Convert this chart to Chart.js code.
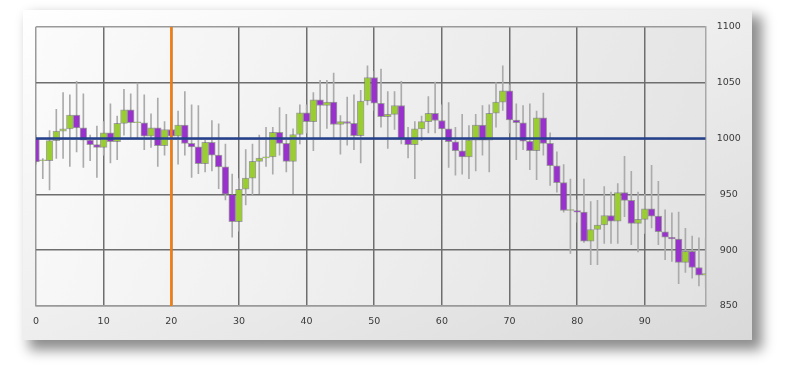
<!DOCTYPE html>
<html>
<head>
<meta charset="utf-8">
<title>Candles</title>
<script src="https://cdn.jsdelivr.net/npm/chart.js@4.4.1/dist/chart.umd.min.js"></script>
<style>
  html, body { margin: 0; padding: 0; background: #fff; }
  body { width: 799px; height: 383px; position: relative; overflow: hidden; }
  #panel {
    position: absolute; left: 23px; top: 10px; width: 729px; height: 330px;
    background: linear-gradient(to bottom right, #ffffff 0%, #eeeeee 50%, #d9d9d9 100%);
    box-shadow: 8px 8px 12px 2px rgba(0, 0, 0, 0.45);
  }
  canvas { display: block; }
</style>
</head>
<body>
<div id="panel"><canvas id="chart" width="729" height="330"></canvas></div>
<script>
// Candle values, one entry per x position (0..99)
const opens = [
  1000, 980, 980, 998, 1006.5, 1008.5, 1021, 1009.5, 998.5, 994.5,
  992, 1005, 997, 1013.5, 1025.5, 1014, 1014, 1002, 1009.5, 993.5,
  1008, 1002, 1012, 995.5, 992.5, 977.5, 996.5, 985, 974.5, 950,
  925.5, 954.5, 964.5, 979.5, 982.5, 983.5, 1005.5, 995.5, 979.5, 1003.5,
  1023, 1015, 1034.5, 1029.5, 1032.5, 1012.5, 1015, 1013.5, 1002.5, 1033.5,
  1054.5, 1031.5, 1019.5, 1021.5, 1029.5, 1000, 994.5, 1008.5, 1015, 1022.5,
  1016, 1008.5, 997, 989, 983.5, 998.5, 1012, 998.5, 1022.5, 1032.5,
  1042.5, 1016.5, 1014, 997.5, 989, 1018.5, 995.5, 975.5, 960.5, 935.5,
  935.5, 934, 908, 918.5, 922.5, 931, 926, 951.5, 944.5, 924,
  927.5, 937, 930.5, 916.5, 911.5, 910, 889, 899, 884.5, 877.5
];
const closes = [
  979, 980, 998, 1006.5, 1008.5, 1021, 1009.5, 998.5, 994.5, 992,
  1005, 997, 1013.5, 1025.5, 1014, 1014, 1002, 1009.5, 993.5, 1008,
  1002, 1012, 995.5, 992.5, 977.5, 996.5, 985, 974.5, 950, 925.5,
  954.5, 964.5, 979.5, 982.5, 983.5, 1005.5, 995.5, 979.5, 1003.5, 1023,
  1015, 1034.5, 1029.5, 1032.5, 1012.5, 1015, 1013.5, 1002.5, 1033.5, 1054.5,
  1031.5, 1019.5, 1021.5, 1029.5, 1000, 994.5, 1008.5, 1015, 1022.5, 1016,
  1008.5, 997, 989, 983.5, 998.5, 1012, 998.5, 1022.5, 1032.5, 1042.5,
  1016.5, 1014, 997.5, 989, 1018.5, 995.5, 975.5, 960.5, 935.5, 935.5,
  934, 908, 918.5, 922.5, 931, 926, 951.5, 944.5, 924, 927.5,
  937, 930.5, 916.5, 911.5, 910, 889, 899, 884.5, 877.5, 879
];
const highs = [
  1003, 982, 1007, 1026, 1041, 1039, 1051, 1040, 1003, 1011,
  1015, 1031, 1020, 1044, 1040, 1049.5, 1039, 1022, 1036, 1015,
  1020, 1024.5, 1042, 1030, 1029.5, 1000, 1016, 1013, 995, 968,
  964, 990, 995, 1003, 1010, 1010, 1027.5, 1021.5, 1008.5, 1030,
  1030, 1041, 1052, 1052, 1058.5, 1020.5, 1037, 1039, 1043, 1065,
  1060, 1062, 1042, 1042, 1051, 1010, 1015, 1020, 1037.5, 1050.5,
  1030, 1032, 1010, 1021.5, 1011.5, 1021.5, 1029.5, 1030, 1050, 1065,
  1048, 1031, 1029.5, 1031, 1024.5, 1040.5, 1005, 988, 976.5, 963.5,
  945, 963.5, 943.5, 944.5, 957, 952, 959.5, 984, 970.5, 952,
  950, 976, 961.5, 936, 933.5, 934, 919.5, 912.5, 911, 911
];
const lows = [
  977, 964, 954, 982, 982, 975, 988, 974, 980, 965,
  985, 978, 981, 1003, 1000, 1000, 990, 992, 975, 985,
  990, 977, 985, 965, 968.5, 970, 971, 955, 945, 911.5,
  917, 940.5, 949, 950.5, 975, 968, 985, 970, 950.5, 995,
  1005, 989, 1000, 1009, 1000, 986, 994, 990, 978, 1030,
  1025, 1010, 991, 1008, 995, 982.5, 964, 998, 1005, 1005,
  1000, 974, 967, 968, 964, 971, 985, 970, 1010, 1025,
  1005, 981, 990, 972, 963, 985, 958, 952, 934, 897,
  925, 907, 887, 887, 906, 906, 906, 930, 905, 898.5,
  915, 920, 905, 891.5, 890, 870, 880, 875, 868, 866
];

// Axes and the two marker lines
const xRange = [0, 99];
const xStep = 10;
const yRange = [850, 1100];
const yStep = 50;
const refLevel = 1000;   // horizontal blue line
const markerX = 20;      // vertical orange line

const UP = "#9acd32";
const DOWN = "#9932cc";

const bodies = opens.map((o, i) => ({ x: i, y: [o, closes[i]] }));
const wicks = lows.map((l, i) => ({ x: i, y: [l, highs[i]] }));

// light gradient behind the plot
const plotBackground = {
  id: "plotBackground",
  beforeDraw(chart) {
    const { ctx, chartArea: a } = chart;
    const g = ctx.createLinearGradient(a.left, a.top, a.right, a.bottom);
    g.addColorStop(0, "#fbfbfb");
    g.addColorStop(1, "#e2e2e2");
    ctx.save();
    ctx.fillStyle = g;
    ctx.fillRect(a.left, a.top, a.width, a.height);
    ctx.restore();
  },
};

new Chart(document.getElementById("chart"), {
  type: "bar",
  data: {
    datasets: [
      {
        type: "line",
        data: [{ x: xRange[0], y: refLevel }, { x: xRange[1], y: refLevel }],
        borderColor: "#25408c",
        borderWidth: 2.5,
        pointRadius: 0,
        order: 0,
        clip: 0,
      },
      {
        type: "line",
        data: [{ x: markerX, y: yRange[0] }, { x: markerX, y: yRange[1] }],
        borderColor: "#f07d12",
        borderWidth: 2.5,
        pointRadius: 0,
        order: 0,
        clip: 0,
      },
      {
        data: bodies,
        backgroundColor: bodies.map((d) => (d.y[1] >= d.y[0] ? UP : DOWN)),
        borderColor: "rgba(95, 95, 95, 0.55)",
        borderWidth: 1,
        borderSkipped: false,
        minBarLength: 1,
        barPercentage: 1,
        categoryPercentage: 1,
        grouped: false,
        order: 1,
        clip: 0,
      },
      {
        data: wicks,
        backgroundColor: "#ababab",
        barThickness: 1,
        grouped: false,
        order: 2,
        clip: 0,
      },
    ],
  },
  options: {
    responsive: false,
    animation: false,
    devicePixelRatio: 1,
    layout: { padding: { left: 13, top: 8, right: 0, bottom: 0 } },
    plugins: { legend: { display: false }, tooltip: { enabled: false } },
    scales: {
      x: {
        type: "linear",
        offset: false,
        min: xRange[0],
        max: xRange[1],
        afterFit: (s) => { s.height = 34; },
        ticks: {
          stepSize: xStep,
          includeBounds: false,
          padding: 10,
          color: "#3a3a3a",
          font: { family: "DejaVu Sans", size: 9.5 },
          maxRotation: 0,
          callback: (v) => String(v),
        },
        grid: {
          offset: false,
          drawTicks: false,
          lineWidth: 1.5,
          color: (c) => (c.tick && c.tick.value === xRange[0] ? "#9a9a9a" : "#6e6e6e"),
        },
        border: { color: "#9a9a9a", width: 1.5 },
      },
      y: {
        position: "right",
        min: yRange[0],
        max: yRange[1],
        afterFit: (s) => { s.width = 46.3; },
        ticks: {
          stepSize: yStep,
          padding: 11,
          crossAlign: "center",
          color: "#3a3a3a",
          font: { family: "DejaVu Sans", size: 9.5 },
          callback: (v) => String(v),
        },
        grid: {
          drawTicks: false,
          lineWidth: 1.5,
          color: (c) => (c.tick && (c.tick.value === yRange[1] || c.tick.value === yRange[0]) ? "#9a9a9a" : "#6e6e6e"),
        },
        border: { color: "#a8a8a8", width: 1.5 },
      },
    },
  },
  plugins: [plotBackground],
});
</script>
</body>
</html>
